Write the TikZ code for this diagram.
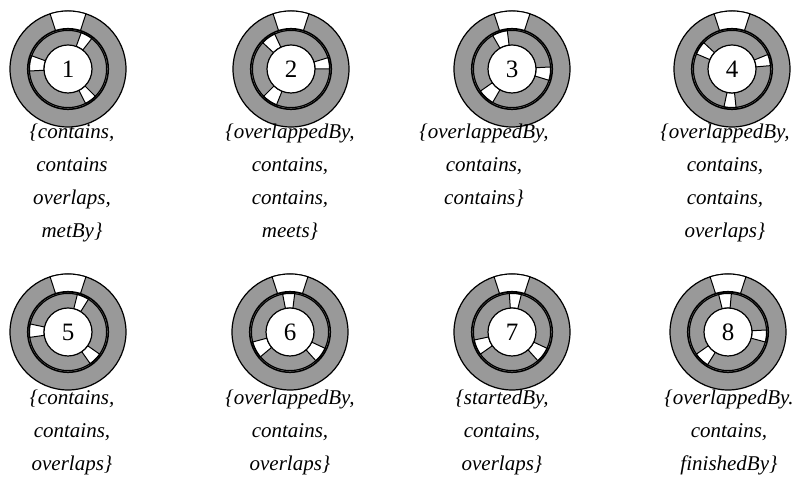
\documentclass[tikz,border=0pt]{standalone}
\usepackage{fontspec}
\setmainfont{Liberation Serif}
\definecolor{ringgray}{RGB}{153,153,153}
\tikzset{
  ringline/.style={draw=black, line width=1.2pt},
  gapsec/.style={fill=white, draw=black, line width=1pt},
  numlabel/.style={font=\fontsize{25}{25}\selectfont, inner sep=0pt},
  caption/.style={font=\fontsize{21}{21}\selectfont\itshape, inner sep=0pt, anchor=base}
}
% #1 cx, #2 cy, #3 number, #4 list of inner gaps a/b
\newcommand{\ringdiag}[4]{%
  \begin{scope}[shift={(#1,#2)}]
    \filldraw[fill=ringgray, ringline] (0,0) circle[radius=58];
    \filldraw[gapsec] (72:40) -- (72:58) arc[start angle=72,end angle=108,radius=58] -- (108:40) arc[start angle=108,end angle=72,radius=40] -- cycle;
    \foreach \ga/\gb in {#4} {
      \filldraw[gapsec] (\ga:24) -- (\ga:39) arc[start angle=\ga,end angle=\gb,radius=39] -- (\gb:24) arc[start angle=\gb,end angle=\ga,radius=24] -- cycle;
    }
    \draw[black, line width=1.5pt] (0,0) circle[radius=40.3];
    \draw[black, line width=1.2pt] (0,0) circle[radius=38.6];
    \filldraw[fill=white, ringline] (0,0) circle[radius=24];
    \node[numlabel] (n#3) at (0,0) {#3};
  \end{scope}}
\begin{document}
\begin{tikzpicture}[x=1pt,y=1pt]
\useasboundingbox (0,0) rectangle (806,486);
% row 1
\ringdiag{68}{417}{1}{52/70,160/183,297/315}
\ringdiag{291}{417}{2}{115/137,0/17,225/248}
\ringdiag{512}{417}{3}{97/120,-17/3,215/240}
\ringdiag{732}{417}{4}{137/157,258/276,5/22}
% row 2
\ringdiag{68}{154}{5}{58/76,168/188,305/325}
\ringdiag{290}{154}{6}{83/101,195/220,312/335}
\ringdiag{512}{154}{7}{76/94,192/215,312/335}
\ringdiag{728}{154}{8}{85/104,215/238,-15/3}
% captions row 1
\node[caption] (c1a) at (72,347) {\{contains,};
\node[caption] (c1b) at (72,314) {contains};
\node[caption] (c1c) at (72,281) {overlaps,};
\node[caption] (c1d) at (72,248) {metBy\}};
\node[caption] (c2a) at (290,347) {\{overlappedBy,};
\node[caption] (c2b) at (290,314) {contains,};
\node[caption] (c2c) at (290,281) {contains,};
\node[caption] (c2d) at (290,248) {meets\}};
\node[caption] (c3a) at (484,347) {\{overlappedBy,};
\node[caption] (c3b) at (484,314) {contains,};
\node[caption] (c3c) at (484,281) {contains\}};
\node[caption] (c4a) at (725,347) {\{overlappedBy,};
\node[caption] (c4b) at (725,314) {contains,};
\node[caption] (c4c) at (725,281) {contains,};
\node[caption] (c4d) at (725,248) {overlaps\}};
% captions row 2
\node[caption] (c5a) at (72,81) {\{contains,};
\node[caption] (c5b) at (72,48) {contains,};
\node[caption] (c5c) at (72,15) {overlaps\}};
\node[caption] (c6a) at (290,81) {\{overlappedBy,};
\node[caption] (c6b) at (290,48) {contains,};
\node[caption] (c6c) at (290,15) {overlaps\}};
\node[caption] (c7a) at (502,81) {\{startedBy,};
\node[caption] (c7b) at (502,48) {contains,};
\node[caption] (c7c) at (502,15) {overlaps\}};
\node[caption] (c8a) at (729,81) {\{overlappedBy.};
\node[caption] (c8b) at (729,48) {contains,};
\node[caption] (c8c) at (729,15) {finishedBy\}};
\end{tikzpicture}
\end{document}
